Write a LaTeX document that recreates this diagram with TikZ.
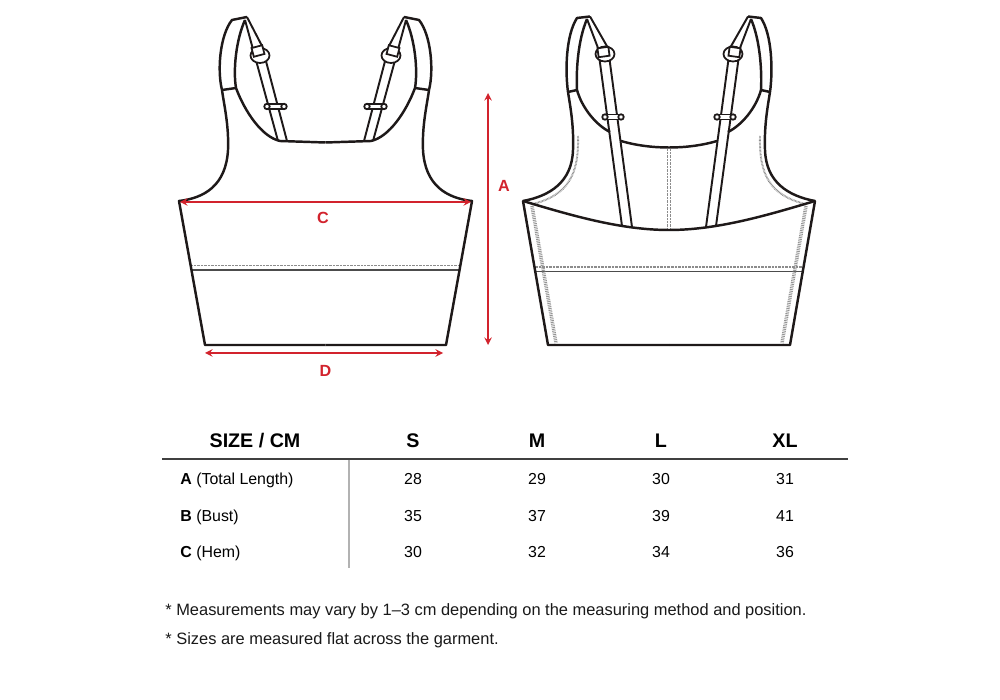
\documentclass[tikz,border=0pt]{standalone}
\usepackage{fontspec}
\setmainfont{Liberation Sans}
\usepackage{tikz}
\usetikzlibrary{arrows}
\usetikzlibrary{matrix}
\definecolor{dimred}{RGB}{210,35,45}
\definecolor{ink}{RGB}{30,25,25}
\newcommand{\tabfont}{\fontsize{9.05}{10}\selectfont}
\newcommand{\sizehead}{\bfseries\fontsize{11.2}{12}\selectfont}
\newcommand{\notefont}{\fontsize{9.35}{11}\selectfont}

\begin{document}
\begin{tikzpicture}[x=0.2mm,y=-0.2mm,
  outline/.style={ink,line width=1.4pt,line join=round},
  strapline/.style={ink,line width=1.1pt},
  hardware/.style={ink,line width=1pt,fill=white},
  stitch/.style={black!45,line width=1.1pt,dash pattern=on 0.4pt off 0.4pt},
  seam/.style={black!70,line width=0.6pt},
  overlock/.style={black!42,line width=2pt,dash pattern=on 0.5pt off 0.5pt},
  dimline/.style={dimred,line width=0.9pt,stealth-stealth},
  dimlabel/.style={dimred,font=\bfseries\fontsize{9.2}{10}\selectfont},
  rowlabel/.style={anchor=base west,inner sep=0pt,font=\tabfont},
  note/.style={anchor=base west,inner sep=0pt,font=\notefont,black!90}]
\useasboundingbox (0,0) rectangle (1000,700);
\fill[white] (0,0) rectangle (1000,700);

% front view
\foreach \s in {1,-1}{
\begin{scope}[shift={(325.5,0)},xscale=\s,shift={(-325.5,0)}]
  \draw[stitch] (191,265.5) -- (325.5,265.5);
  \draw[seam] (192,270) -- (325.5,270);
  \draw[outline] (325.5,345) -- (205,345) -- (179,201)
    .. controls (205,198) and (226,185) .. (228,150)
    .. controls (229,125) and (224,105) .. (222,90)
    .. controls (217,70) and (220,35) .. (232,20) -- (247,17);
  \draw[outline] (222,90) -- (236,88) .. controls (233,70) and (236,40) .. (245,20);
  \draw[outline] (236,88) .. controls (245,112) and (262,137) .. (280,141) -- (325.5,142.5);
  \draw[strapline] (245,20) -- (278,141);
  \draw[strapline] (247,17) -- (262,46) -- (287,141);
  \draw[hardware] (260,55.5) ellipse [x radius=1.9mm,y radius=1.5mm];
  \draw[hardware,rotate around={15:(258,51)}] (252.5,46.5) rectangle (263.5,55.5);
  \draw[hardware] (267,104) rectangle (284,109);
  \draw[hardware] (267,106.5) circle [radius=0.55mm] (284,106.5) circle [radius=0.55mm];
\end{scope}}

% back view
\foreach \s in {1,-1}{
\begin{scope}[shift={(669,0)},xscale=\s,shift={(-669,0)}]
  \draw[stitch] (534.5,267) -- (669,267);
  \draw[seam] (535,271.5) -- (669,271.5);
  \draw[overlock] (532,206) -- (556,343);
  \draw[stitch] (578,136) .. controls (579,175) and (568,195) .. (533,204);
  \draw[stitch] (667.5,149) -- (667.5,229);
  \draw[outline] (669,345) -- (548,345) -- (523,201)
    .. controls (550,196) and (572,182) .. (573,150)
    .. controls (574,125) and (570,105) .. (568,92)
    .. controls (565,70) and (566,35) .. (577,18) -- (590,16.5);
  \draw[outline] (568,92) -- (577,90) .. controls (576,70) and (578,40) .. (587,19);
  \draw[outline] (577,90) .. controls (582,108) and (596,125) .. (610,132);
  \draw[outline] (621,141) .. controls (638,146) and (655,147.5) .. (669,147.5);
  \draw[outline] (523,201) .. controls (570,215) and (620,230) .. (669,230);
  \draw[strapline] (587,19) -- (598,48) -- (622,226);
  \draw[strapline] (590,16.5) -- (608,48) -- (632,227);
  \draw[hardware] (605,54) ellipse [x radius=1.9mm,y radius=1.5mm];
  \draw[hardware,rotate around={8:(603.5,52)}] (598,47.5) rectangle (609,56.5);
  \draw[hardware] (605,114.5) rectangle (621,119.5);
  \draw[hardware] (605,117) circle [radius=0.55mm] (621,117) circle [radius=0.55mm];
\end{scope}}

% measures
\coordinate (aT) at (488,93);
\coordinate (aB) at (488,345);
\coordinate (cL) at (180,202);
\coordinate (cR) at (471,202);
\coordinate (dL) at (205,353);
\coordinate (dR) at (443,353);
\draw[dimline] (aT) -- (aB);
\draw[dimline] (cL) -- (cR);
\draw[dimline] (dL) -- (dR);
\node[dimlabel] (labA) at (504,186) {A};
\node[dimlabel] (labC) at (323,217.5) {C};
\node[dimlabel] (labD) at (325.5,371) {D};

% size table
\matrix (t) [matrix of nodes,matrix anchor=t-1-1.base,
  nodes={inner sep=0pt,font=\tabfont},
  row 1/.style={nodes={font=\sizehead}},
  row sep={7.36mm,between origins},column sep={24.8mm,between origins}]
  at (413,447.5)
  {
    S & M & L & XL\\
    28 & 29 & 30 & 31\\
    35 & 37 & 39 & 41\\
    30 & 32 & 34 & 36\\};
\node[anchor=base,inner sep=0pt,font=\sizehead] (sizecm) at (t-1-1.base -| 255,0) {SIZE / CM};
\foreach \r/\m/\txt in {2/A/Total Length,3/B/Bust,4/C/Hem}
  \node[rowlabel] (row\m) at (t-\r-1.base -| 180,0) {\textbf{\m} (\txt)};
\draw[black!75,line width=0.8pt] (162,459) -- (848,459);
\draw[black!30,line width=1pt] (349,460) -- (349,568);

\node[note] (note1) at (165,615.5) {* Measurements may vary by 1–3 cm depending on the measuring method and position.};
\node[note] (note2) at (165,644) {* Sizes are measured flat across the garment.};
\end{tikzpicture}
\end{document}
